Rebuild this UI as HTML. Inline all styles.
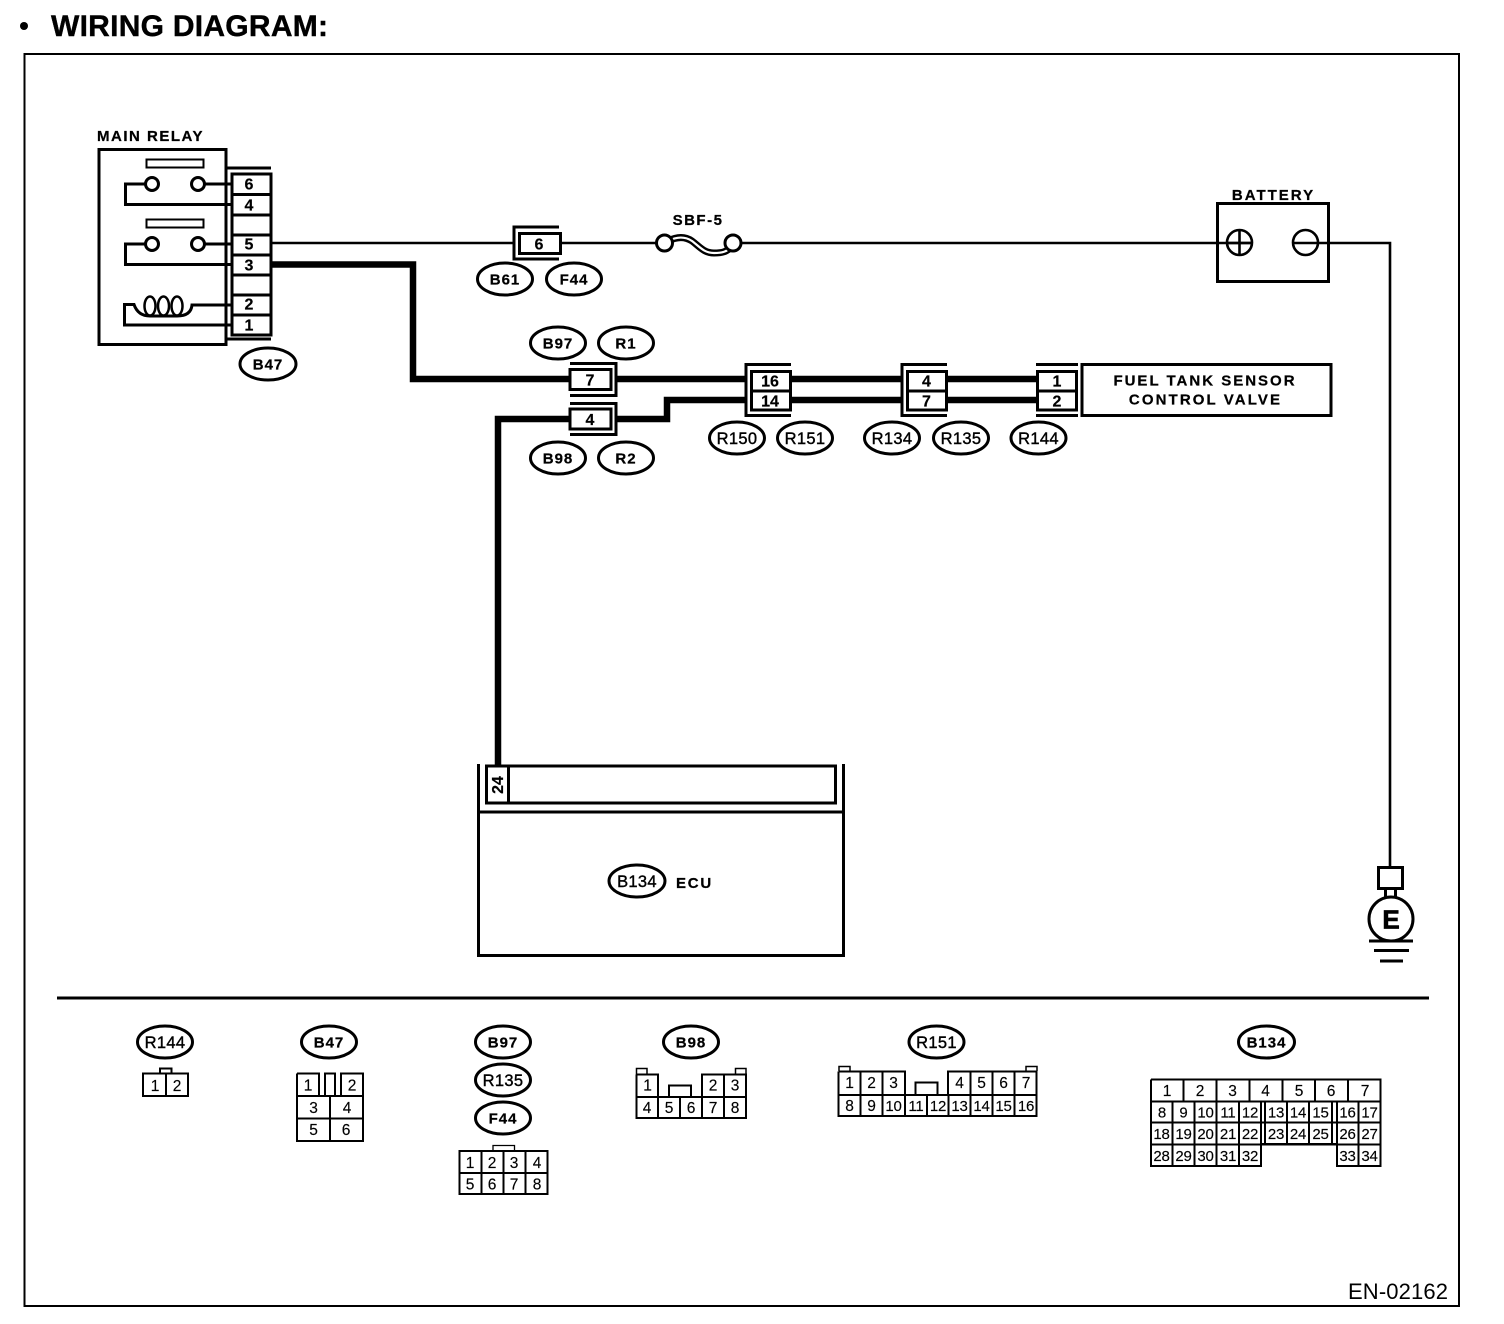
<!DOCTYPE html>
<html><head><meta charset="utf-8"><style>
html,body{margin:0;padding:0;background:#fff}
svg{display:block}
text{font-family:"Liberation Sans",sans-serif;fill:#000;text-anchor:middle}
.b{font-weight:bold;font-size:15px;letter-spacing:1px;stroke:#000;stroke-width:.25px}
.p{font-weight:bold;font-size:16px;stroke:#000;stroke-width:.2px}
.l{font-size:16.5px;letter-spacing:.3px;stroke:#000;stroke-width:.4px}
.n{font-size:15.500px;stroke:#000;stroke-width:.15px}
.s{font-size:15px;letter-spacing:-.2px;stroke:#000;stroke-width:.15px}
.c{fill:none;stroke:#000;stroke-width:3}
.g{fill:none;stroke:#000;stroke-width:2}
.e{fill:#fff;stroke:#000;stroke-width:3}
.w{fill:none;stroke:#000;stroke-width:2.6}
.k{fill:none;stroke:#000;stroke-width:6.5}
</style></head><body>
<svg width="1504" height="1324" viewBox="0 0 1504 1324" xmlns="http://www.w3.org/2000/svg">
<rect width="1504" height="1324" fill="#fff"/>
<circle cx="24" cy="26" r="4"/>
<text x="51" y="36" style="text-anchor:start;font-weight:bold;font-size:30px;stroke:#000;stroke-width:.4px" textLength="277">WIRING DIAGRAM:</text>
<rect x="24.5" y="54" width="1434.5" height="1252" class="g"/>
<path d="M57 998H1429" class="c"/>
<text x="1398" y="1299" style="font-size:22px" textLength="100">EN-02162</text>

<!-- wires -->
<path d="M272 243H513M561 243H656M741 243H1252M1293 243H1390V867" class="w"/>
<path d="M272 264.500H413V379H569M617 379H745M791 379H901M947 379H1037M791 400H901M947 400H1037" class="k"/>
<path d="M569 419H498V766M617 419H667V400H745" class="k"/>

<!-- main relay -->
<text x="150.500" y="141" class="b" style="font-size:15px;letter-spacing:1.500px">MAIN RELAY</text>
<rect x="99" y="149.500" width="127" height="195" class="c"/>
<path d="M227 168H271M227 339H271" class="c"/>
<rect x="232" y="174" width="39" height="161" class="c"/>
<path d="M232 194.500H271M232 215H271M232 235H271M232 255H271M232 275H271M232 295H271M232 315H271" class="c"/>
<text x="249" y="189.500" class="p">6</text><text x="249" y="210.500" class="p">4</text>
<text x="249" y="249.500" class="p">5</text><text x="249" y="270.500" class="p">3</text>
<text x="249" y="309.500" class="p">2</text><text x="249" y="330.500" class="p">1</text>
<rect x="146.500" y="159.500" width="57" height="8" class="g" stroke-width="2.500"/>
<rect x="146.500" y="219.500" width="57" height="8" class="g" stroke-width="2.500"/>
<path d="M146 184H125.500V204.500H232M204 184H232M146 244H125.500V264.500H232M204 244H232" class="c"/>
<circle cx="152" cy="184" r="6.500" class="e"/><circle cx="198" cy="184" r="6.500" class="e"/>
<circle cx="152" cy="244" r="6.500" class="e"/><circle cx="198" cy="244" r="6.500" class="e"/>
<path d="M232 325H124.500V304.500H134Q138 316 150 316H177Q191 316 192 305H232" class="c"/>
<ellipse cx="150" cy="306" rx="5.500" ry="9.500" fill="none" stroke="#000" stroke-width="2.500"/>
<ellipse cx="163.500" cy="306" rx="5.500" ry="9.500" fill="none" stroke="#000" stroke-width="2.500"/>
<ellipse cx="177" cy="306" rx="5.500" ry="9.500" fill="none" stroke="#000" stroke-width="2.500"/>
<ellipse cx="268" cy="364" rx="28" ry="16" class="e"/><text x="268" y="369.500" class="b">B47</text>

<!-- connector 6 -->
<path d="M559 227H514V259H559" class="c"/>
<rect x="519.500" y="233.500" width="41" height="20" class="e"/>
<text x="539" y="249.500" class="p">6</text>
<ellipse cx="505" cy="279" rx="27.500" ry="16" class="e"/><text x="505" y="284.500" class="b">B61</text>
<ellipse cx="574" cy="279" rx="27.500" ry="16" class="e"/><text x="574" y="284.500" class="b">F44</text>

<!-- fuse -->
<text x="698" y="225" class="b" style="letter-spacing:1.500px">SBF-5</text>
<path d="M668 241C678 236 686 237 692 241C700 247 704 253 714 253C722 253 727 252 732 246" fill="none" stroke="#000" stroke-width="7"/>
<path d="M668 241C678 236 686 237 692 241C700 247 704 253 714 253C722 253 727 252 732 246" fill="none" stroke="#fff" stroke-width="2.200"/>
<circle cx="664.500" cy="243" r="8" class="e"/><circle cx="733" cy="243" r="8" class="e"/>

<!-- connector 7 / 4 -->
<ellipse cx="558" cy="343" rx="27.500" ry="16" class="e"/><text x="558" y="348.500" class="b">B97</text>
<ellipse cx="626" cy="343" rx="27.500" ry="16" class="e"/><text x="626" y="348.500" class="b">R1</text>
<path d="M570 363.500H616V395.500H570" class="c"/>
<rect x="570" y="369.500" width="41" height="20" class="e"/>
<text x="590" y="385.500" class="p">7</text>
<path d="M570 403.500H616V434.500H570" class="c"/>
<rect x="570" y="409" width="41" height="20" class="e"/>
<text x="590" y="425" class="p">4</text>
<ellipse cx="558" cy="458" rx="27.500" ry="16" class="e"/><text x="558" y="463.500" class="b">B98</text>
<ellipse cx="626" cy="458" rx="27.500" ry="16" class="e"/><text x="626" y="463.500" class="b">R2</text>

<!-- connector 16/14 -->
<path d="M791 364.500H746V415.500H791" class="c"/>
<rect x="751.500" y="371.500" width="39" height="38.500" class="e"/>
<path d="M751 391H791" class="c"/>
<text x="770" y="386.500" class="p">16</text><text x="770" y="406.500" class="p">14</text>
<ellipse cx="737" cy="438" rx="27.500" ry="16" class="e"/><text x="737" y="444" class="l">R150</text>
<ellipse cx="805" cy="438" rx="27.500" ry="16" class="e"/><text x="805" y="444" class="l">R151</text>

<!-- connector 4/7 -->
<path d="M947 364.500H902V415.500H947" class="c"/>
<rect x="907.500" y="371.500" width="39" height="38.500" class="e"/>
<path d="M907 391H947" class="c"/>
<text x="926.500" y="386.500" class="p">4</text><text x="926.500" y="406.500" class="p">7</text>
<ellipse cx="892" cy="438" rx="27.500" ry="16" class="e"/><text x="892" y="444" class="l">R134</text>
<ellipse cx="961" cy="438" rx="27.500" ry="16" class="e"/><text x="961" y="444" class="l">R135</text>

<!-- connector 1/2 + valve -->
<path d="M1036 364.500H1078M1036 415.500H1078" class="c"/>
<rect x="1037.500" y="371.500" width="39" height="38.500" class="e"/>
<path d="M1037 391H1077" class="c"/>
<text x="1057" y="386.500" class="p">1</text><text x="1057" y="406.500" class="p">2</text>
<ellipse cx="1038.500" cy="438" rx="27.500" ry="16" class="e"/><text x="1038.500" y="444" class="l">R144</text>
<rect x="1082" y="364.500" width="249" height="51" class="c"/>
<text x="1205" y="385.500" class="b" style="letter-spacing:2px">FUEL TANK SENSOR</text>
<text x="1205.500" y="404.500" class="b" style="letter-spacing:2.100px">CONTROL VALVE</text>

<!-- battery -->
<text x="1273.500" y="200" class="b" style="letter-spacing:2px">BATTERY</text>
<rect x="1217.500" y="203.500" width="111" height="78" class="c"/>
<circle cx="1239.500" cy="242.500" r="12.500" class="w"/>
<path d="M1239.500 230V255M1227 243H1252" class="w"/>
<circle cx="1305.500" cy="242.500" r="12.500" class="w"/>

<!-- ground -->
<rect x="1378.500" y="867.500" width="24" height="21" class="c"/>
<path d="M1385.500 889V899M1395.500 889V899" class="c"/>
<circle cx="1391" cy="919" r="22" class="e"/>
<text x="1391" y="928.500" style="font-weight:bold;font-size:26px;stroke:#000;stroke-width:.7px">E</text>
<path d="M1369 941H1413M1374 950.500H1409M1380 961H1403" class="c"/>

<!-- ECU -->
<path d="M478.500 764V955.500H843.500V764M478.500 812H843.500" class="c"/>
<rect x="486.500" y="766" width="349" height="37" class="c"/>
<path d="M508.500 766V803" class="c"/>
<text transform="translate(503,785) rotate(-90)" class="p">24</text>
<ellipse cx="637" cy="881" rx="28" ry="16" class="e"/><text x="637" y="887" class="l">B134</text>
<text x="694.500" y="888" class="b" style="letter-spacing:1.800px;font-size:15px">ECU</text>

<!-- bottom connectors -->
<ellipse cx="165" cy="1042" rx="27.500" ry="16" class="e"/><text x="165" y="1048" class="l">R144</text>
<path d="M160 1073V1068.500H171.500V1073" class="g"/>
<rect x="143" y="1073.500" width="45" height="22.500" class="g"/>
<path d="M166 1073V1096" class="g"/>
<text x="155" y="1091" class="n">1</text><text x="177" y="1091" class="n">2</text>

<ellipse cx="329" cy="1042" rx="27.500" ry="16" class="e"/><text x="329" y="1047.500" class="b">B47</text>
<path d="M297 1073.500H319V1096M325 1096V1073.500H335V1096M341 1096V1073.500H363V1141H297V1073.500M297 1096H363M297 1118.500H363M330 1096V1141" class="g"/>
<text x="308" y="1090.500" class="n">1</text><text x="352" y="1090.500" class="n">2</text>
<text x="313.500" y="1113" class="n">3</text><text x="347" y="1113" class="n">4</text>
<text x="313.500" y="1135" class="n">5</text><text x="346" y="1135" class="n">6</text>

<ellipse cx="503" cy="1042" rx="27.500" ry="16" class="e"/><text x="503" y="1047.500" class="b">B97</text>
<ellipse cx="503" cy="1080" rx="27.500" ry="16" class="e"/><text x="503" y="1086" class="l">R135</text>
<ellipse cx="503" cy="1118" rx="27.500" ry="16" class="e"/><text x="503" y="1123.500" class="b">F44</text>
<path d="M493 1151V1145.500H514.500V1151" fill="none" stroke="#000" stroke-width="1.300"/>
<rect x="459.500" y="1151" width="88" height="43" class="g"/>
<path d="M459 1173H548M481.500 1151V1194M503.500 1151V1194M525.500 1151V1194" class="g"/>
<text x="470" y="1168" class="n">1</text><text x="492" y="1168" class="n">2</text><text x="514" y="1168" class="n">3</text><text x="537" y="1168" class="n">4</text>
<text x="470" y="1189.500" class="n">5</text><text x="492" y="1189.500" class="n">6</text><text x="514" y="1189.500" class="n">7</text><text x="537" y="1189.500" class="n">8</text>

<ellipse cx="691" cy="1042" rx="27.500" ry="16" class="e"/><text x="691" y="1047.500" class="b">B98</text>
<path d="M636.500 1074.500V1068.500H647V1074.500M735.500 1074.500V1068.500H746V1074.500" fill="none" stroke="#000" stroke-width="1.500"/>
<path d="M636.500 1074.500H658V1097H702V1074.500H746V1118H636.500V1074.500M636.500 1097H746M658 1097V1118M680 1097V1118M702 1097V1118M724 1074.500V1118M669 1097V1085.500H691V1097" class="g"/>
<text x="647.500" y="1090.500" class="n">1</text><text x="713" y="1090.500" class="n">2</text><text x="735" y="1090.500" class="n">3</text>
<text x="647" y="1113" class="n">4</text><text x="669" y="1113" class="n">5</text><text x="691" y="1113" class="n">6</text><text x="713" y="1113" class="n">7</text><text x="735" y="1113" class="n">8</text>

<ellipse cx="936.500" cy="1042" rx="27.500" ry="16" class="e"/><text x="936.500" y="1048" class="l">R151</text>
<path d="M839 1071V1066.500H850V1071M1026 1071V1066.500H1037V1071" fill="none" stroke="#000" stroke-width="1.500"/>
<path d="M838.500 1071.500H905V1095H948V1071.500H1036.500V1116H838.500V1071.500M838.500 1095H1036.500M860.500 1071.500V1116M882.500 1071.500V1116M905 1095V1116M927 1095V1116M948.500 1095V1116M970.500 1071.500V1116M992.500 1071.500V1116M1014.500 1071.500V1116M915.500 1095V1082.500H937.500V1095" class="g"/>
<text x="849.500" y="1088" class="n">1</text><text x="871.500" y="1088" class="n">2</text><text x="893.500" y="1088" class="n">3</text>
<text x="959.500" y="1088" class="n">4</text><text x="981.500" y="1088" class="n">5</text><text x="1003.500" y="1088" class="n">6</text><text x="1026" y="1088" class="n">7</text>
<text x="849.500" y="1111" class="n">8</text><text x="871.500" y="1111" class="n">9</text><text x="893.500" y="1111" class="s">10</text><text x="916" y="1111" class="s">11</text><text x="938" y="1111" class="s">12</text><text x="959.500" y="1111" class="s">13</text><text x="981.500" y="1111" class="s">14</text><text x="1003.500" y="1111" class="s">15</text><text x="1026" y="1111" class="s">16</text>

<ellipse cx="1266.500" cy="1042" rx="28" ry="16" class="e"/><text x="1266.500" y="1047.500" class="b">B134</text>
<path d="M1151 1079.500H1380.500V1166H1337V1144H1261V1166H1151V1079.500M1151 1101.500H1380.500M1151 1122.500H1380.500M1151 1144.500H1380.500M1183.500 1079.500V1101.500M1216.500 1079.500V1101.500M1249.500 1079.500V1101.500M1282.500 1079.500V1101.500M1315 1079.500V1101.500M1348 1079.500V1101.500M1172.500 1101.500V1166M1194.500 1101.500V1166M1216.500 1101.500V1166M1239 1101.500V1166M1261 1101.500V1166M1265 1101.500V1144M1287 1101.500V1144M1309 1101.500V1144M1332 1101.500V1144M1337 1101.500V1166M1358.500 1101.500V1166" class="g"/>
<text x="1167" y="1096" class="n">1</text><text x="1200" y="1096" class="n">2</text><text x="1232.500" y="1096" class="n">3</text><text x="1265.500" y="1096" class="n">4</text><text x="1299" y="1096" class="n">5</text><text x="1331" y="1096" class="n">6</text><text x="1365" y="1096" class="n">7</text>
<text x="1162" y="1117.500" class="s">8</text><text x="1183.500" y="1117.500" class="s">9</text><text x="1205.500" y="1117.500" class="s">10</text><text x="1228" y="1117.500" class="s">11</text><text x="1250" y="1117.500" class="s">12</text><text x="1276" y="1117.500" class="s">13</text><text x="1298" y="1117.500" class="s">14</text><text x="1320.500" y="1117.500" class="s">15</text><text x="1347.500" y="1117.500" class="s">16</text><text x="1369.500" y="1117.500" class="s">17</text>
<text x="1161.500" y="1139" class="s">18</text><text x="1183.500" y="1139" class="s">19</text><text x="1205.500" y="1139" class="s">20</text><text x="1228" y="1139" class="s">21</text><text x="1250" y="1139" class="s">22</text><text x="1276" y="1139" class="s">23</text><text x="1298" y="1139" class="s">24</text><text x="1320.500" y="1139" class="s">25</text><text x="1347.500" y="1139" class="s">26</text><text x="1369.500" y="1139" class="s">27</text>
<text x="1161.500" y="1161" class="s">28</text><text x="1183.500" y="1161" class="s">29</text><text x="1205.500" y="1161" class="s">30</text><text x="1228" y="1161" class="s">31</text><text x="1250" y="1161" class="s">32</text><text x="1347.500" y="1161" class="s">33</text><text x="1369.500" y="1161" class="s">34</text>
</svg>
</body></html>
